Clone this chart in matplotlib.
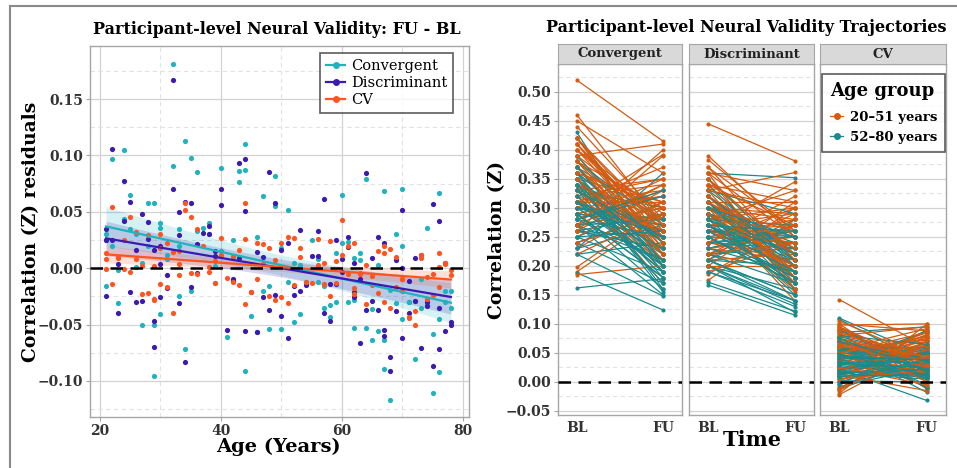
import numpy as np
import matplotlib
matplotlib.use("Agg")
import matplotlib.pyplot as plt
from matplotlib.lines import Line2D
from matplotlib.ticker import MultipleLocator

# ---- data: participant ages and FU-BL residuals (left panel) ----
ages = [21, 21, 22, 22, 23, 24, 24, 25, 25, 26,
        27, 28, 28, 29, 29, 29, 30, 30, 31, 31,
        32, 32, 33, 33, 34, 34, 35, 35, 36, 37,
        38, 39, 40, 40, 41, 42, 43, 44, 44, 44,
        45, 46, 47, 48, 48, 49, 50, 51, 51, 52,
        52, 53, 54, 56, 57, 57, 58, 58, 59, 60,
        60, 61, 62, 62, 63, 64, 64, 65, 66, 66,
        67, 67, 68, 68, 69, 70, 70, 71, 72, 72,
        73, 74, 75, 75, 76, 77, 78, 76, 62, 67,
        21, 23, 26, 27, 30, 33, 36, 38, 39, 42,
        43, 46, 47, 49, 50, 53, 55, 56, 59, 61,
        63, 65, 69, 71, 73, 74, 76, 77, 78, 70]

conv_res = [0.025, -0.016, 0.097, 0.020, -0.031, 0.105, 0.044, 0.065, 0.035, 0.001,
            -0.050, 0.058, 0.020, -0.096, 0.058, -0.050, -0.041, 0.040, 0.008, 0.012,
            0.181, 0.091, 0.035, 0.020, 0.113, -0.072, 0.098, -0.020, 0.085, 0.036,
            0.030, 0.002, 0.089, 0.015, -0.061, 0.010, 0.076, 0.110, 0.087, -0.091,
            -0.042, -0.057, 0.064, -0.054, -0.016, 0.082, -0.054, 0.052, -0.012, -0.048,
            0.005, 0.003, -0.012, 0.008, -0.016, -0.035, -0.043, -0.033, 0.013, 0.065,
            0.022, 0.023, -0.028, -0.053, 0.013, -0.053, 0.079, -0.064, -0.056, 0.003,
            -0.089, 0.068, -0.117, -0.019, -0.031, 0.070, -0.045, -0.030, -0.081, -0.029,
            -0.035, -0.033, -0.111, -0.058, -0.092, -0.030, -0.035, 0.067, 0.009, -0.064,
            0.030, -0.002, 0.030, 0.005, 0.036, -0.025, 0.033, 0.040, -0.013, 0.025,
            0.086, 0.028, -0.020, 0.055, 0.018, -0.041, 0.025, -0.012, -0.030, -0.030,
            0.007, -0.036, 0.030, -0.030, -0.010, 0.036, -0.045, -0.020, -0.020, 0.020]

disc_res = [0.025, -0.025, 0.106, 0.025, -0.040, 0.077, 0.042, 0.059, -0.021, 0.016,
            -0.029, 0.041, 0.026, -0.070, 0.016, -0.047, -0.026, 0.004, -0.006, -0.018,
            0.167, 0.070, 0.050, -0.031, 0.059, -0.083, 0.058, -0.017, 0.021, 0.031,
            0.030, 0.015, 0.070, 0.056, -0.055, -0.011, 0.093, 0.097, 0.051, -0.056,
            -0.021, -0.057, 0.010, 0.085, -0.037, 0.058, -0.042, 0.022, -0.062, -0.016,
            -0.024, 0.034, -0.015, 0.011, -0.040, 0.061, -0.047, -0.014, 0.025, 0.008,
            -0.003, 0.019, -0.026, 0.005, -0.066, 0.084, -0.037, -0.029, 0.028, -0.037,
            -0.060, 0.022, -0.091, -0.079, -0.038, 0.052, -0.062, -0.040, 0.009, -0.029,
            -0.071, -0.030, -0.087, 0.057, -0.072, -0.056, -0.048, 0.042, -0.021, -0.055,
            0.035, 0.004, -0.030, 0.048, 0.020, 0.029, -0.004, 0.037, 0.011, -0.010,
            0.009, 0.014, -0.026, -0.024, 0.016, -0.020, 0.011, 0.033, -0.014, 0.028,
            -0.010, 0.009, 0.007, -0.011, 0.012, -0.034, -0.035, 0.005, -0.050, 0.000]

cv_res = [0.008, 0.013, -0.014, 0.054, 0.010, 0.025, -0.001, 0.045, -0.003, 0.008,
          -0.023, -0.022, 0.029, -0.027, 0.002, -0.028, -0.014, 0.030, 0.022, -0.017,
          -0.040, 0.014, 0.015, -0.006, 0.058, 0.052, 0.045, -0.004, 0.035, 0.020,
          0.001, -0.013, 0.027, 0.012, -0.009, -0.012, -0.015, 0.058, -0.032, 0.026,
          -0.021, 0.022, 0.004, 0.018, -0.025, -0.028, 0.022, 0.028, -0.031, 0.027,
          -0.015, 0.018, -0.012, 0.003, 0.005, -0.014, -0.025, 0.024, -0.013, 0.043,
          0.012, 0.020, -0.023, 0.022, -0.004, 0.003, -0.032, -0.015, -0.022, 0.015,
          0.013, -0.030, 0.017, -0.035, -0.017, -0.020, -0.010, -0.043, -0.050, -0.038,
          0.012, -0.027, -0.024, -0.005, 0.013, 0.004, -0.006, 0.001, -0.018, 0.020,
          -0.001, 0.009, 0.032, 0.002, 0.018, 0.004, -0.005, -0.003, 0.006, 0.011,
          0.016, -0.010, 0.021, 0.007, -0.026, 0.010, -0.013, 0.026, 0.006, -0.005,
          -0.005, -0.007, 0.010, -0.044, 0.009, -0.008, -0.017, 0.005, -0.002, -0.010]

# ---- data: BL / FU correlations per participant (right panel) ----
conv_bl = [0.52, 0.46, 0.31, 0.42, 0.27, 0.45, 0.35, 0.39, 0.29, 0.33,
           0.44, 0.26, 0.37, 0.19, 0.41, 0.30, 0.34, 0.23, 0.40, 0.28,
           0.36, 0.25, 0.42, 0.32, 0.185, 0.38, 0.27, 0.35, 0.31, 0.41,
           0.29, 0.37, 0.22, 0.34, 0.40, 0.26, 0.33, 0.39, 0.198, 0.30,
           0.36, 0.28, 0.42, 0.32, 0.24, 0.38, 0.35, 0.31, 0.27, 0.43,
           0.38, 0.29, 0.33, 0.26, 0.36, 0.31, 0.24, 0.35, 0.28, 0.32,
           0.22, 0.37, 0.30, 0.27, 0.34, 0.25, 0.39, 0.29, 0.33, 0.23,
           0.162, 0.31, 0.26, 0.36, 0.28, 0.30, 0.24, 0.35, 0.27, 0.188,
           0.32, 0.25, 0.29, 0.34, 0.22, 0.37, 0.28, 0.31, 0.26, 0.33,
           0.40, 0.33, 0.37, 0.30, 0.42, 0.35, 0.38, 0.31, 0.39, 0.34,
           0.36, 0.41, 0.32, 0.37, 0.29, 0.30, 0.27, 0.34, 0.24, 0.36,
           0.28, 0.33, 0.23, 0.30, 0.26, 0.35, 0.27, 0.31, 0.25, 0.29]

conv_fu = [0.415, 0.27, 0.33, 0.24, 0.30, 0.36, 0.22, 0.41, 0.32, 0.25,
           0.28, 0.34, 0.21, 0.29, 0.23, 0.392, 0.26, 0.31, 0.24, 0.35,
           0.30, 0.33, 0.22, 0.27, 0.20, 0.25, 0.34, 0.19, 0.31, 0.26,
           0.32, 0.24, 0.29, 0.17, 0.27, 0.39, 0.23, 0.28, 0.30, 0.21,
           0.25, 0.33, 0.27, 0.35, 0.29, 0.22, 0.31, 0.26, 0.40, 0.20,
           0.27, 0.18, 0.30, 0.23, 0.16, 0.25, 0.29, 0.21, 0.33, 0.19,
           0.24, 0.20, 0.28, 0.15, 0.26, 0.31, 0.22, 0.18, 0.25, 0.36,
           0.178, 0.23, 0.29, 0.19, 0.21, 0.27, 0.17, 0.24, 0.30, 0.124,
           0.20, 0.26, 0.16, 0.22, 0.148, 0.28, 0.25, 0.19, 0.23, 0.21,
           0.29, 0.35, 0.24, 0.32, 0.26, 0.20, 0.30, 0.37, 0.23, 0.28,
           0.31, 0.25, 0.34, 0.22, 0.27, 0.26, 0.21, 0.18, 0.29, 0.24,
           0.32, 0.17, 0.27, 0.20, 0.25, 0.155, 0.28, 0.22, 0.19, 0.26]

disc_bl = [0.445, 0.39, 0.28, 0.37, 0.22, 0.36, 0.30, 0.33, 0.25, 0.27,
           0.383, 0.21, 0.32, 0.175, 0.35, 0.26, 0.29, 0.186, 0.34, 0.24,
           0.31, 0.22, 0.36, 0.27, 0.20, 0.33, 0.23, 0.30, 0.26, 0.35,
           0.25, 0.32, 0.19, 0.29, 0.34, 0.21, 0.28, 0.31, 0.23, 0.26,
           0.30, 0.24, 0.37, 0.27, 0.20, 0.32, 0.29, 0.26, 0.22, 0.36,
           0.33, 0.25, 0.29, 0.21, 0.31, 0.27, 0.20, 0.30, 0.23, 0.28,
           0.19, 0.32, 0.26, 0.22, 0.29, 0.21, 0.34, 0.25, 0.28, 0.20,
           0.167, 0.27, 0.22, 0.31, 0.24, 0.26, 0.20, 0.30, 0.23, 0.172,
           0.28, 0.21, 0.25, 0.29, 0.19, 0.32, 0.24, 0.27, 0.22, 0.35,
           0.34, 0.29, 0.31, 0.27, 0.36, 0.30, 0.33, 0.28, 0.32, 0.26,
           0.30, 0.35, 0.24, 0.31, 0.28, 0.26, 0.22, 0.30, 0.21, 0.33,
           0.25, 0.29, 0.20, 0.27, 0.23, 0.31, 0.24, 0.28, 0.21, 0.26]

disc_fu = [0.381, 0.25, 0.30, 0.21, 0.27, 0.33, 0.19, 0.361, 0.24, 0.29,
           0.26, 0.31, 0.18, 0.28, 0.22, 0.345, 0.20, 0.27, 0.17, 0.32,
           0.23, 0.29, 0.16, 0.25, 0.20, 0.30, 0.21, 0.14, 0.26, 0.22,
           0.28, 0.19, 0.24, 0.155, 0.31, 0.22, 0.27, 0.18, 0.25, 0.20,
           0.29, 0.21, 0.26, 0.17, 0.30, 0.23, 0.19, 0.27, 0.24, 0.352,
           0.22, 0.17, 0.25, 0.14, 0.20, 0.26, 0.16, 0.23, 0.19, 0.27,
           0.13, 0.21, 0.18, 0.24, 0.15, 0.28, 0.20, 0.17, 0.22, 0.12,
           0.115, 0.19, 0.23, 0.16, 0.25, 0.18, 0.134, 0.21, 0.27, 0.122,
           0.20, 0.15, 0.24, 0.18, 0.14, 0.22, 0.26, 0.17, 0.19, 0.21,
           0.27, 0.22, 0.31, 0.19, 0.25, 0.28, 0.16, 0.33, 0.21, 0.24,
           0.26, 0.18, 0.30, 0.22, 0.20, 0.23, 0.17, 0.25, 0.15, 0.29,
           0.18, 0.24, 0.14, 0.21, 0.26, 0.17, 0.23, 0.16, 0.20, 0.25]

cv_bl = [0.142, 0.09, 0.03, 0.105, -0.02, 0.07, 0.05, 0.085, 0.01, 0.06,
         0.095, -0.012, 0.075, 0.00, 0.10, 0.04, 0.065, -0.006, 0.08, 0.025,
         0.055, 0.015, 0.098, 0.035, -0.022, 0.07, 0.02, 0.06, 0.045, 0.088,
         0.03, 0.08, 0.005, 0.05, 0.092, 0.012, 0.04, 0.075, 0.018, 0.058,
         0.068, 0.022, 0.10, 0.038, -0.015, 0.062, 0.048, 0.028, 0.008, 0.11,
         0.07, 0.02, 0.045, 0.00, 0.06, 0.035, -0.008, 0.055, 0.015, 0.04,
         -0.004, 0.065, 0.03, 0.01, 0.05, 0.025, 0.085, 0.018, 0.042, 0.005,
         0.012, 0.048, 0.022, 0.078, 0.032, 0.038, 0.002, 0.058, 0.028, 0.108,
         0.052, 0.015, 0.035, 0.062, 0.008, 0.095, 0.03, 0.045, 0.02, 0.068,
         0.085, 0.04, 0.07, 0.02, 0.095, 0.055, 0.03, 0.075, 0.01, 0.06,
         0.05, 0.09, -0.01, 0.065, 0.035, 0.045, 0.02, 0.075, -0.012, 0.06,
         0.03, 0.055, 0.01, 0.07, 0.04, 0.09, 0.015, 0.05, 0.025, 0.08]

cv_fu = [0.06, 0.02, 0.085, 0.04, 0.10, 0.03, 0.075, -0.012, 0.055, 0.045,
         0.01, 0.07, 0.035, 0.09, 0.00, 0.065, 0.025, 0.08, 0.05, -0.005,
         0.072, 0.03, 0.10, 0.015, 0.058, 0.04, 0.088, -0.01, 0.062, 0.025,
         0.048, 0.095, 0.02, 0.078, 0.035, -0.015, 0.07, 0.045, 0.082, 0.01,
         0.055, 0.03, 0.088, 0.012, 0.065, 0.038, 0.005, 0.075, 0.028, 0.045,
         0.02, 0.05, 0.01, 0.04, -0.018, 0.035, 0.025, 0.06, 0.005, 0.045,
         0.03, -0.01, 0.052, 0.015, 0.042, 0.02, 0.095, 0.008, 0.038, 0.028,
         0.035, 0.012, -0.032, 0.045, 0.025, 0.058, 0.00, 0.04, 0.018, 0.03,
         0.048, 0.022, 0.06, -0.005, 0.032, 0.015, 0.088, 0.038, 0.01, 0.026,
         0.04, 0.08, 0.015, 0.062, 0.03, 0.092, 0.05, 0.00, 0.07, 0.035,
         0.085, 0.02, 0.055, 0.045, 0.01, 0.03, 0.052, 0.018, 0.04, 0.006,
         0.025, 0.042, 0.012, 0.035, 0.055, 0.02, 0.048, -0.008, 0.03, 0.065]

measures = ["Convergent", "Discriminant", "CV"]
age_groups = ["20\u201351 years", "52\u201380 years"]
group_cut = 51

# ---- styling ----
plt.rcParams["font.family"] = "DejaVu Serif"
LEFT_COLORS = {"Convergent": "#1fb3bd", "Discriminant": "#3a1ab0", "CV": "#ff5420"}
GROUP_COLORS = ["#d35b12", "#1a8a8c"]
BORDER = "#a6a6a6"
TICKC = "#333333"


def style_axes(ax):
    for s in ax.spines.values():
        s.set_color(BORDER)
        s.set_linewidth(1.0)
    ax.tick_params(which="major", length=3, color=BORDER, labelcolor=TICKC,
                   labelsize=10, pad=2)
    ax.tick_params(which="minor", length=0)
    for lab in ax.get_xticklabels() + ax.get_yticklabels():
        lab.set_fontweight("bold")
    ax.grid(which="major", color="#d2d2d2", lw=0.9)
    ax.grid(which="minor", color="#e2e2e2", lw=0.8, ls=(0, (4, 3)))
    ax.set_axisbelow(True)


W, H = 957, 468
fig = plt.figure(figsize=(W / 100, H / 100), dpi=100)


def rect(x0, y0, x1, y1):
    return [x0 / W, 1 - y1 / H, (x1 - x0) / W, (y1 - y0) / H]


# ---- left panel ----
ax = fig.add_axes(rect(90, 46, 469, 417))
ages_a = np.array(ages, float)
series = {"Convergent": conv_res, "Discriminant": disc_res, "CV": cv_res}
xs = np.linspace(ages_a.min(), ages_a.max(), 100)
n = len(ages_a)
for name, vals in series.items():
    ax.scatter(ages_a, vals, s=14, color=LEFT_COLORS[name], lw=0, zorder=3)
for name, vals in series.items():
    y = np.array(vals, float)
    col = LEFT_COLORS[name]
    b, a = np.polyfit(ages_a, y, 1)
    resid = y - (a + b * ages_a)
    s = np.sqrt(np.sum(resid ** 2) / (n - 2))
    sxx = np.sum((ages_a - ages_a.mean()) ** 2)
    se = s * np.sqrt(1 / n + (xs - ages_a.mean()) ** 2 / sxx)
    fit = a + b * xs
    ax.fill_between(xs, fit - 1.98 * se, fit + 1.98 * se, color=col,
                    alpha=0.18, lw=0, zorder=2)
    ax.plot(xs, fit, color=col, lw=1.6, zorder=4)
ax.axhline(0, color="black", lw=1.8, ls=(0, (5, 3)), zorder=5)
ax.set_xlim(18.35, 81.0)
ax.set_ylim(-0.132, 0.197)
ax.xaxis.set_major_locator(MultipleLocator(20))
ax.xaxis.set_minor_locator(MultipleLocator(10))
ax.yaxis.set_minor_locator(MultipleLocator(0.025))
ax.set_yticks([-0.10, -0.05, 0.0, 0.05, 0.10, 0.15])
ax.set_yticklabels(["\u22120.10", "\u22120.05", "0.00", "0.05", "0.10", "0.15"])
style_axes(ax)
handles = [Line2D([0], [0], color=LEFT_COLORS[m], lw=1.6, marker="o", ms=4)
           for m in measures]
leg = ax.legend(handles, measures, loc="upper right",
                bbox_to_anchor=(0.958, 0.981), borderaxespad=0, fontsize=10.5,
                frameon=True, fancybox=False, handlelength=1.3, handletextpad=0.4,
                borderpad=0.4, labelspacing=0.2)
leg.get_frame().set_edgecolor("#333333")
leg.get_frame().set_linewidth(1.2)
fig.text(277 / W, 1 - 29 / H, "Participant-level Neural Validity: FU - BL",
         ha="center", va="center", fontsize=11.5, fontweight="bold")
fig.text(278 / W, 1 - 447 / H, "Age (Years)", ha="center", va="center",
         fontsize=14, fontweight="bold")
fig.text(31 / W, 1 - 232 / H, "Correlation (Z) residuals", ha="center",
         va="center", rotation=90, fontsize=13.5, fontweight="bold")

# ---- right panels ----
groups = [0 if a <= group_cut else 1 for a in ages]
panel_data = {"Convergent": (conv_bl, conv_fu),
              "Discriminant": (disc_bl, disc_fu),
              "CV": (cv_bl, cv_fu)}
n_p = len(groups)
draw_order = sorted(range(n_p), key=lambda i: (i * 37) % n_p)
panel_x = [(558, 682), (689, 814), (820, 946)]
axes_r = []
for (x0, x1), name in zip(panel_x, measures):
    axr = fig.add_axes(rect(x0, 64, x1, 415))
    bl, fu = panel_data[name]
    for i in draw_order:
        axr.plot([0, 1], [bl[i], fu[i]], color=GROUP_COLORS[groups[i]], lw=0.9,
                 marker="o", ms=3, mew=0, zorder=3)
    axr.axhline(0, color="black", lw=1.8, ls=(0, (5, 3)), zorder=5)
    axr.set_xlim(-0.22, 1.22)
    axr.set_ylim(-0.057, 0.548)
    axr.set_xticks([0, 1])
    axr.set_xticklabels(["BL", "FU"])
    axr.yaxis.set_minor_locator(MultipleLocator(0.025))
    ticks = np.round(np.arange(-0.05, 0.51, 0.05), 2)
    axr.set_yticks(ticks)
    axr.set_yticklabels([("\u2212" if t < 0 else "") + f"{abs(t):.2f}" for t in ticks])
    style_axes(axr)
    axr.xaxis.grid(False)
    axr.tick_params(axis="x", length=0, pad=4)
    if name != "Convergent":
        axr.tick_params(axis="y", labelleft=False, length=0)
    # facet strip
    sax = fig.add_axes(rect(x0, 44, x1, 64))
    sax.set_facecolor("#d9d9d9")
    sax.set_xticks([])
    sax.set_yticks([])
    for s in sax.spines.values():
        s.set_color(BORDER)
    sax.text(0.5, 0.5, name, ha="center", va="center", fontsize=9.5,
             fontweight="bold", color="#222222", transform=sax.transAxes)
    axes_r.append(axr)

ghandles = [Line2D([0], [0], color=c, lw=0.9, marker="o", ms=4) for c in GROUP_COLORS]
leg2 = axes_r[2].legend(ghandles, age_groups, title="Age group", loc="upper left",
                        bbox_to_anchor=(0.016, 0.972), borderaxespad=0,
                        frameon=True, fancybox=False,
                        prop={"weight": "bold", "size": 9.5},
                        title_fontproperties={"weight": "bold", "size": 13},
                        handlelength=1.0, handletextpad=0.5, borderpad=0.6,
                        labelspacing=0.55)
leg2._legend_box.align = "left"
leg2._legend_box.sep = 8
leg2.get_frame().set_edgecolor("#333333")
leg2.get_frame().set_linewidth(1.2)

fig.text(746 / W, 1 - 27 / H, "Participant-level Neural Validity Trajectories",
         ha="center", va="center", fontsize=11.5, fontweight="bold")
fig.text(752 / W, 1 - 440 / H, "Time", ha="center", va="center",
         fontsize=15, fontweight="bold")
fig.text(497 / W, 1 - 240 / H, "Correlation (Z)", ha="center", va="center",
         rotation=90, fontsize=13.5, fontweight="bold")

# outer frame (top and left edges)
fig.add_artist(Line2D([10 / W, 10 / W], [0, 1 - 6 / H], color="#8a8a8a", lw=1.5,
                      transform=fig.transFigure))
fig.add_artist(Line2D([10 / W, 1], [1 - 6 / H, 1 - 6 / H], color="#8a8a8a", lw=1.5,
                      transform=fig.transFigure))

fig.savefig("out.png", dpi=100)
